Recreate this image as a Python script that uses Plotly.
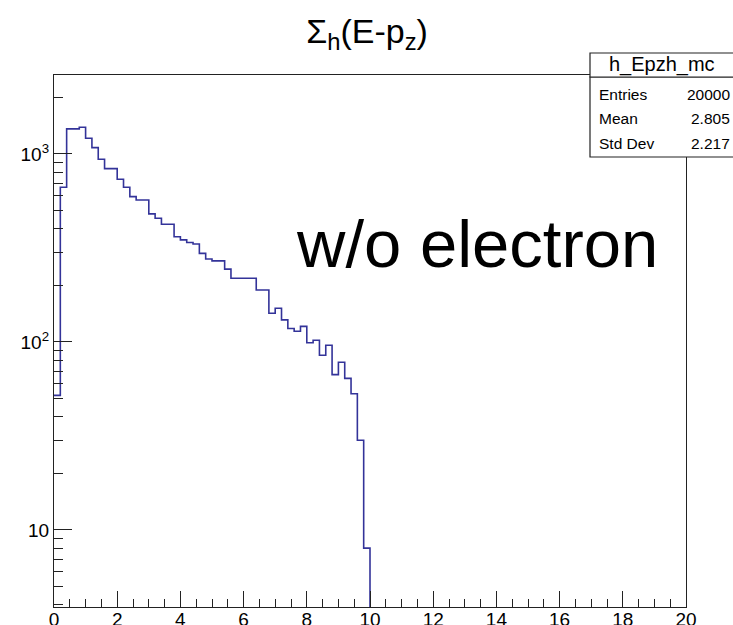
import plotly.graph_objects as go

# Histogram h_Epzh_mc: 100 bins of width 0.2 over [0, 20]
x_low, x_high, n_bins = 0.0, 20.0, 100
counts = [52, 665, 1359, 1359, 1388, 1212, 1081, 937, 836, 836,
          733, 665, 593, 569, 569, 480, 455, 423, 423, 363,
          349, 338, 332, 296, 276, 270, 270, 244, 218, 218,
          218, 218, 189, 189, 142, 151, 131, 118, 114, 121,
          99, 102, 85, 96, 67, 78, 64, 53, 30, 8] + [0] * 50

stat_title = "h_Epzh_mc"
stat_names = ["Entries", "Mean", "Std Dev"]
stat_values = ["20000", "2.805", "2.217"]

y_major = [10, 100, 1000]
y_major_text = ["10", "10<sup>2</sup>", "10<sup>3</sup>"]
y_minor = [4, 5, 6, 7, 8, 9, 20, 30, 40, 50, 60, 70, 80, 90,
           200, 300, 400, 500, 600, 700, 800, 900, 2000]
y_range_log = [0.590, 3.420]

width = (x_high - x_low) / n_bins
edges = [x_low + i * width for i in range(n_bins + 1)]
# empty bins fall below the visible log range, like ROOT draws them
floor = 0.1
ys = [c if c > 0 else floor for c in counts]
ys = ys + [ys[-1]]

FONT = "Liberation Sans, Arial, Helvetica, sans-serif"
LINE = "#333399"

fig = go.Figure()
fig.add_trace(go.Scatter(
    x=edges, y=ys, mode="lines", line=dict(color=LINE, width=1.6, shape="hv"),
    hoverinfo="skip", showlegend=False,
))

fig.update_layout(
    width=733, height=625,
    margin=dict(l=54, r=47, t=75, b=18),
    paper_bgcolor="white", plot_bgcolor="white",
    font=dict(family=FONT, color="black"),
    title=dict(text="Σ<sub>h</sub>(E-p<sub>z</sub>)", x=367 / 733, xanchor="center",
               y=1 - 31 / 625, yanchor="middle", font=dict(size=34, family=FONT)),
    xaxis=dict(
        range=[x_low, x_high], showgrid=False, zeroline=False, automargin=False,
        showline=True, linecolor="#222", linewidth=1.3, mirror=True,
        ticks="inside", ticklen=16, tickwidth=1.2, tickcolor="#222",
        tickmode="linear", tick0=0, dtick=2, ticklabelstandoff=-5,
        tickfont=dict(size=19, family=FONT),
        minor=dict(ticks="inside", ticklen=8, tickwidth=1.2, tickcolor="#222",
                   tickmode="linear", tick0=0, dtick=0.5),
    ),
    yaxis=dict(
        type="log", range=y_range_log, showgrid=False, zeroline=False,
        automargin=False,
        showline=True, linecolor="#222", linewidth=1.3, mirror=True,
        ticks="inside", ticklen=18, tickwidth=1.2, tickcolor="#222",
        tickmode="array", tickvals=y_major, ticktext=y_major_text,
        tickfont=dict(size=19, family=FONT),
        minor=dict(ticks="inside", ticklen=9, tickwidth=1.2, tickcolor="#222",
                   tickmode="array", tickvals=y_minor),
    ),
)

# Stats box (title cell plus three rows), running off the right edge
def px_x(p):
    return (p - 54) / 632

def px_y(p):
    return (607 - p) / 532

box_l, box_r = px_x(590), px_x(760)
head_t, head_b, box_b = px_y(53), px_y(77), px_y(157)
fig.add_shape(type="rect", xref="paper", yref="paper", x0=box_l, x1=box_r,
              y0=box_b, y1=head_b, fillcolor="white",
              line=dict(color="#222", width=1.2), layer="above")
fig.add_shape(type="rect", xref="paper", yref="paper", x0=box_l, x1=box_r,
              y0=head_b, y1=head_t, fillcolor="white",
              line=dict(color="#222", width=1.2), layer="above")
fig.add_annotation(xref="paper", yref="paper", x=px_x(662), y=px_y(65),
                   text=stat_title, showarrow=False, xanchor="center",
                   yanchor="middle", font=dict(size=20, family=FONT))
row_y = [94, 118.5, 143]
for name, val, ry in zip(stat_names, stat_values, row_y):
    fig.add_annotation(xref="paper", yref="paper", x=px_x(597), y=px_y(ry),
                       text=name, showarrow=False, xanchor="left",
                       yanchor="middle", font=dict(size=15.5, family=FONT))
    fig.add_annotation(xref="paper", yref="paper", x=px_x(732), y=px_y(ry),
                       text=val, showarrow=False, xanchor="right",
                       yanchor="middle", font=dict(size=15.5, family=FONT))

fig.add_annotation(xref="paper", yref="paper", x=px_x(476.5), y=px_y(243),
                   text="w/o electron", showarrow=False, xanchor="center",
                   yanchor="middle", font=dict(size=67, family=FONT))

fig.write_html("out.html")
